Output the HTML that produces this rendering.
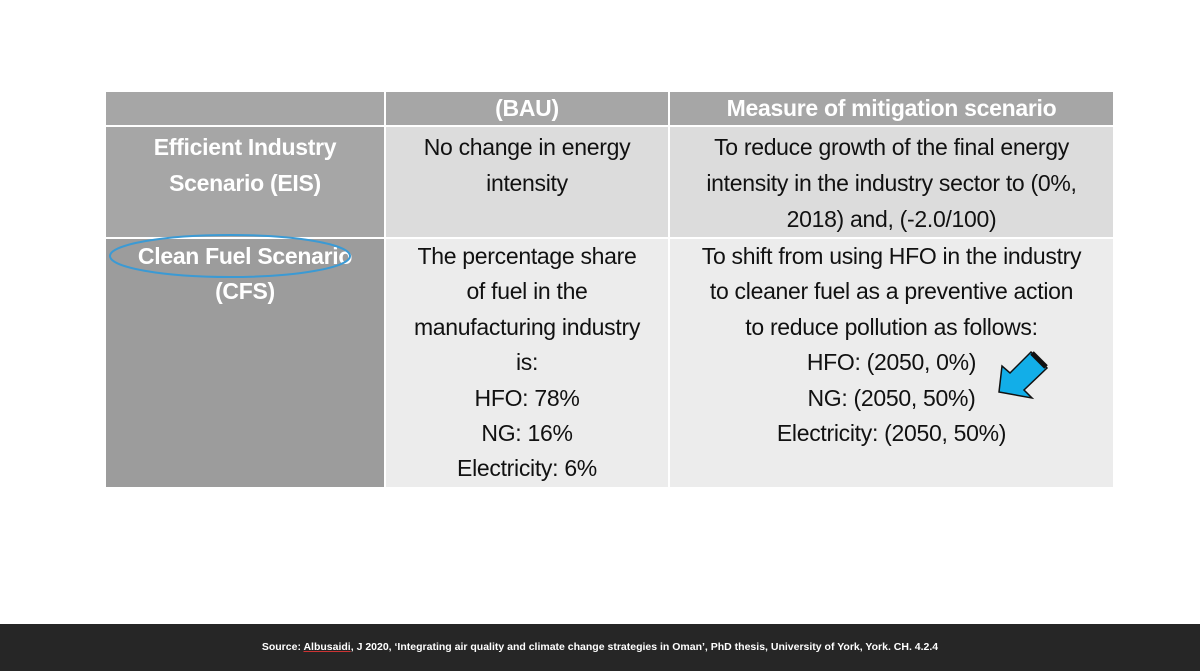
<!DOCTYPE html>
<html><head><meta charset="utf-8"><style>
body{margin:0;width:1200px;height:671px;background:#fff;position:relative;overflow:hidden;font-family:"Liberation Sans",sans-serif}
table{position:absolute;left:104px;top:90px;border-collapse:collapse;width:1011px}
td{font-size:23px;line-height:36px;text-align:center;vertical-align:top;padding:0;border:2px solid #fff;letter-spacing:-0.3px}
.h td{background:#a6a6a6;color:#fff;height:33px;line-height:33px;font-weight:bold}
.c1{background:#a6a6a6;color:#fff;font-weight:bold}
.r1 td{height:98px;padding-top:2px;background:#dcdcdc;color:#111}
.r1 td.c1{background:#a6a6a6;color:#fff}
.r2 td{height:248px;padding-top:0;line-height:35.4px;background:#ececec;color:#111}
.r2 td.c1{background:#9c9c9c;color:#fff}
#foot{position:absolute;left:0;top:624px;width:1200px;height:47px;background:#262626;color:#fff;font-size:10.5px;font-weight:bold;text-align:center;line-height:47px}
</style></head><body>
<table>
<tr class="h"><td style="width:278px"></td><td style="width:282px">(BAU)</td><td>Measure of mitigation scenario</td></tr>
<tr class="r1"><td class="c1">Efficient Industry<br>Scenario (EIS)</td><td>No change in energy<br>intensity</td><td>To reduce growth of the final energy<br>intensity in the industry sector to (0%,<br>2018) and, (-2.0/100)</td></tr>
<tr class="r2"><td class="c1">Clean Fuel Scenario<br>(CFS)</td><td>The percentage share<br>of fuel in the<br>manufacturing industry<br>is:<br>HFO: 78%<br>NG: 16%<br>Electricity: 6%</td><td>To shift from using HFO in the industry<br>to cleaner fuel as a preventive action<br>to reduce pollution as follows:<br>HFO: (2050, 0%)<br>NG: (2050, 50%)<br>Electricity: (2050, 50%)</td></tr>
</table>
<svg style="position:absolute;left:0;top:0" width="1200" height="671">
<ellipse cx="230" cy="256" rx="120" ry="21" fill="none" stroke="#3b9ad4" stroke-width="2"/>
<g>
<polygon points="1031,352 1047,368 1024,390 1032,398 999,392 1002,366 1010,373" fill="#12aee8" stroke="#111" stroke-width="1.5"/>
<line x1="1032" y1="353" x2="1046" y2="367" stroke="#111" stroke-width="5"/>
</g>
</svg>
<div id="foot">Source: <u style="text-decoration-color:#c33">Albusaidi</u>, J 2020, ‘Integrating air quality and climate change strategies in Oman’, PhD thesis, University of York, York. CH. 4.2.4</div>
</body></html>
